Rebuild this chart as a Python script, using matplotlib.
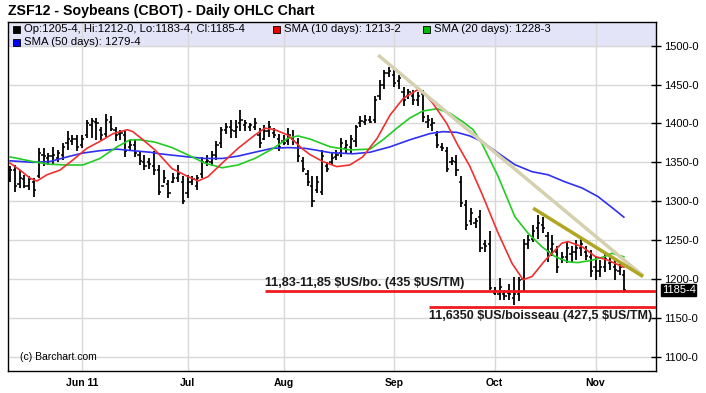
import numpy as np
import matplotlib
matplotlib.use("Agg")
import matplotlib.pyplot as plt
from matplotlib.patches import Rectangle

plt.rcParams['font.family'] = ['Liberation Sans', 'DejaVu Sans']

# daily OHLC bars, ZSF12
highs = [1345, 1347, 1340, 1334, 1332, 1330, 1368, 1368, 1362, 1370,
         1366, 1375, 1390, 1385, 1385, 1385, 1405, 1407, 1407, 1396,
         1412, 1409, 1396, 1392, 1390, 1379, 1379, 1364, 1360, 1355,
         1364, 1346, 1340, 1327, 1336, 1347, 1332, 1334, 1332, 1334,
         1357, 1360, 1364, 1377, 1396, 1400, 1405, 1405, 1417, 1405,
         1400, 1407, 1394, 1398, 1403, 1394, 1387, 1385, 1394, 1392,
         1381, 1357, 1340, 1332, 1332, 1366, 1351, 1362, 1366, 1381,
         1379, 1385, 1398, 1409, 1411, 1409, 1435, 1456, 1469, 1473,
         1469, 1462, 1447, 1445, 1443, 1441, 1443, 1411, 1407, 1390,
         1375, 1370, 1357, 1360, 1332, 1301, 1291, 1278, 1289, 1250,
         1262, 1190, 1201, 1186, 1194, 1203, 1203, 1252, 1257, 1269,
         1282, 1280, 1261, 1257, 1242, 1235, 1248, 1242, 1250, 1254,
         1242, 1237, 1229, 1224, 1233, 1229, 1224, 1220, 1212]
lows = [1325, 1312, 1317, 1317, 1314, 1306, 1330, 1345, 1347, 1347,
        1351, 1353, 1366, 1372, 1364, 1368, 1381, 1381, 1379, 1379,
        1383, 1390, 1377, 1379, 1357, 1366, 1357, 1347, 1340, 1342,
        1334, 1308, 1323, 1304, 1323, 1325, 1297, 1304, 1321, 1314,
        1330, 1345, 1345, 1353, 1368, 1387, 1381, 1381, 1390, 1390,
        1390, 1392, 1368, 1379, 1383, 1381, 1364, 1372, 1372, 1372,
        1351, 1338, 1319, 1293, 1310, 1308, 1338, 1347, 1353, 1357,
        1362, 1362, 1370, 1396, 1398, 1400, 1400, 1430, 1445, 1460,
        1447, 1445, 1422, 1432, 1424, 1422, 1402, 1394, 1390, 1368,
        1364, 1338, 1347, 1332, 1293, 1263, 1269, 1265, 1235, 1235,
        1186, 1179, 1173, 1173, 1173, 1166, 1171, 1184, 1239, 1248,
        1252, 1259, 1222, 1229, 1207, 1220, 1220, 1222, 1224, 1229,
        1224, 1203, 1199, 1203, 1209, 1212, 1199, 1205, 1183.5]
opens = [1330, 1340, 1322, 1328, 1320, 1325, 1332, 1360, 1355, 1358,
         1356, 1360, 1375, 1378, 1380, 1372, 1385, 1398, 1402, 1392,
         1386, 1402, 1392, 1386, 1385, 1370, 1372, 1360, 1350, 1350,
         1345, 1340, 1320, 1322, 1325, 1330, 1325, 1310, 1325, 1320,
         1335, 1350, 1350, 1360, 1375, 1392, 1395, 1390, 1400, 1398,
         1395, 1395, 1385, 1380, 1390, 1388, 1380, 1378, 1378, 1380,
         1375, 1352, 1335, 1320, 1315, 1312, 1345, 1350, 1357, 1362,
         1368, 1370, 1378, 1400, 1402, 1405, 1405, 1435, 1450, 1465,
         1462, 1455, 1440, 1435, 1435, 1430, 1438, 1402, 1398, 1385,
         1370, 1365, 1350, 1350, 1325, 1295, 1275, 1272, 1280, 1245,
         1245, 1182, 1180, 1180, 1182, 1175, 1180, 1200, 1245, 1252,
         1265, 1270, 1255, 1238, 1235, 1225, 1228, 1232, 1235, 1240,
         1235, 1228, 1215, 1210, 1215, 1220, 1215, 1210, 1205.5]
closes = [1340, 1320, 1330, 1320, 1328, 1315, 1362, 1358, 1358, 1360,
          1362, 1370, 1380, 1380, 1370, 1380, 1400, 1403, 1400, 1385,
          1405, 1393, 1385, 1388, 1365, 1372, 1362, 1352, 1345, 1348,
          1340, 1312, 1330, 1310, 1330, 1335, 1300, 1325, 1328, 1330,
          1350, 1352, 1360, 1372, 1392, 1395, 1392, 1395, 1405, 1400,
          1398, 1400, 1375, 1390, 1395, 1385, 1370, 1375, 1385, 1378,
          1358, 1342, 1325, 1300, 1325, 1358, 1342, 1355, 1360, 1375,
          1372, 1380, 1395, 1403, 1405, 1402, 1430, 1450, 1465, 1468,
          1452, 1458, 1430, 1440, 1430, 1435, 1408, 1405, 1400, 1372,
          1368, 1342, 1352, 1340, 1298, 1270, 1285, 1275, 1240, 1242,
          1188, 1185, 1190, 1178, 1180, 1180, 1198, 1245, 1250, 1262,
          1272, 1265, 1235, 1245, 1215, 1228, 1240, 1235, 1240, 1245,
          1230, 1210, 1210, 1215, 1225, 1222, 1212, 1215, 1185.5]

# moving averages (bar position, value)
sma10_x = [0, 2.1, 4.2, 5.6, 7.7, 10.4, 13.1, 16, 18.75, 21.5, 24.4, 25.6, 27.7,
           30.2, 33.75, 37.1, 39.2, 41.25, 44.2, 47.5, 51, 53.1, 55.2, 57.9,
           60.8, 62.5, 65.2, 68.1, 70.8, 73.5, 76.5, 79.2, 81.9, 84.8, 86,
           88.1, 91, 93.1, 95.8, 98.3, 101.7, 104.6, 106.9, 108.75, 111.5,
           115, 116.25, 119.2, 121.9, 124.6, 127.9]
sma10_y = [1349, 1340, 1329.5, 1326, 1334, 1340, 1353, 1368, 1377, 1387, 1392, 1389.5, 1379,
           1366, 1342, 1331.6, 1326, 1331.6, 1349, 1368, 1385, 1394, 1392, 1385,
           1368, 1360, 1351, 1344.5, 1346.6, 1357, 1381, 1411, 1432, 1443, 1441,
           1426, 1400, 1374.5, 1345, 1310, 1259, 1220, 1199, 1203, 1224,
           1246, 1248, 1241.5, 1229, 1224, 1215]
sma20_x = [0, 4.8, 8.3, 11.9, 15.2, 18.75, 22.3, 25, 27.1, 30.2, 33.75, 37.1,
           40.6, 44.2, 47.5, 51, 54.6, 57.9, 60, 62.5, 66.7, 70.8, 75, 77.7,
           80.6, 83.3, 86, 89, 91.7, 94.4, 96.5, 98.3, 101.7, 105.2, 107.9,
           110.8, 113.5, 116.25, 118.3, 121.25, 124, 125.4, 127.9]
sma20_y = [1357, 1351, 1347.5, 1346.6, 1346.6, 1355, 1370, 1379, 1379, 1376, 1369, 1359.5,
           1349, 1343, 1346.6, 1355, 1367, 1381, 1384, 1380, 1370, 1366, 1367, 1379,
           1394, 1407, 1416, 1419, 1413, 1402, 1392, 1374.5, 1332, 1280, 1259,
           1241.5, 1229, 1222, 1221, 1224, 1229, 1233, 1228.5]
sma50_x = [0, 4.8, 8.3, 11.9, 15.2, 18.75, 22.3, 25.6, 29.2, 31.25, 37.1, 40.6,
           44.2, 47.5, 51, 54.6, 57.9, 61.5, 63.5, 66.7, 71.5, 75, 79.2, 83.3,
           87.5, 90.2, 93.1, 95.8, 98.3, 101.7, 105.2, 108.75, 112.1, 115.6,
           119.2, 122.5, 126, 127.9]
sma50_y = [1352, 1350, 1351, 1357, 1362, 1365, 1367, 1365, 1363, 1361, 1357, 1355,
           1355, 1358, 1363, 1368, 1369, 1368, 1366, 1362.5, 1361, 1363, 1370, 1379,
           1387, 1389.5, 1388.6, 1384, 1377, 1362, 1347, 1338, 1334, 1325,
           1317, 1306, 1289, 1279.5]

# drawn trendlines and support levels
trend1_x, trend1_y = [76.7, 131.9], [1488, 1204]
trend2_x, trend2_y = [109, 131.9], [1291, 1203]
support1, support1_start = 1184.4, 53.1
support2, support2_start = 1164.0, 87.3

month_pos = [15, 37, 57, 80, 101, 122]
month_labels = ['Jun 11', 'Jul', 'Aug', 'Sep', 'Oct', 'Nov']
y_ticks = [1100, 1150, 1200, 1250, 1300, 1350, 1400, 1450, 1500]

W, H = 706, 393
fig = plt.figure(figsize=(W / 100, H / 100), dpi=100)
ax = fig.add_axes([8 / W, 1 - 371 / H, 648 / W, 349 / H])
xmin, xmax = -0.42, 134.6
ymin, ymax = 1081.5, 1530.6
ax.set_xlim(xmin, xmax)
ax.set_ylim(ymin, ymax)

# legend band
ax.axhspan(1500, ymax, color='#e4e4f8', zorder=0)
for p in month_pos:
    ax.axvline(p, color='#d8d8d8', lw=1, zorder=1)
for t in y_ticks:
    ax.axhline(t, color='#d8d8d8', lw=1, zorder=1)

# OHLC bars
x = np.arange(len(highs))
ax.vlines(x, lows, highs, color='black', lw=1.3, zorder=3)
ax.hlines(opens, x - 0.45, x, color='black', lw=1.1, zorder=3)
ax.hlines(closes, x, x + 0.45, color='black', lw=1.1, zorder=3)

ax.plot(sma50_x, sma50_y, color='#3030f0', lw=1.2, zorder=4)
ax.plot(sma20_x, sma20_y, color='#22cc22', lw=1.2, zorder=4)
ax.plot(sma10_x, sma10_y, color='#f03030', lw=1.2, zorder=4)

ax.plot(trend1_x, trend1_y, color='#d4d0b0', lw=2.5, zorder=5, solid_capstyle='butt')
ax.plot(trend2_x, trend2_y, color='#b0a622', lw=2.5, zorder=5, solid_capstyle='butt')

ax.hlines(support1, support1_start, xmax, color='#ee1c1c', lw=2, zorder=5)
ax.hlines(support2, support2_start, xmax, color='#ee1c1c', lw=2, zorder=5)
ax.text(support1_start, 1194.3, '11,83-11,85 $US/bo. (435 $US/TM)', fontsize=9.1,
        fontweight='bold', color='#1a1a1a', va='center', ha='left', zorder=6,
        parse_math=False)
ax.text(support2_start, 1152.6, '11,6350 $US/boisseau (427,5 $US/TM)', fontsize=9,
        fontweight='bold', color='#1a1a1a', va='center', ha='left', zorder=6,
        parse_math=False)

# axes styling
for s in ax.spines.values():
    s.set_color('black')
    s.set_linewidth(1)
ax.yaxis.tick_right()
ax.set_yticks(y_ticks)
ax.set_yticklabels(['%d-0' % t for t in y_ticks])
ax.tick_params(axis='y', direction='inout', length=7, width=1, labelsize=8, pad=2)
ax.set_xticks(month_pos)
ax.set_xticklabels(month_labels, fontweight='bold')
ax.tick_params(axis='x', length=0, labelsize=7.5, pad=5)

ax.text(xmax + 1.2, closes[-1], '1185-4', fontsize=8, color='white', va='center',
        ha='left', zorder=7, clip_on=False,
        bbox=dict(facecolor='black', edgecolor='black', pad=0.6))

# title and legend
fig.text(8 / W, 1 - 11 / H, 'ZSF12 - Soybeans (CBOT) - Daily OHLC Chart', fontsize=10.2,
         fontweight='bold', va='center', ha='left')
legend = [(13, 29, 'black', 'Op:1205-4, Hi:1212-0, Lo:1183-4, Cl:1185-4'),
          (273, 29, '#ee0000', 'SMA (10 days): 1213-2'),
          (423, 29, '#00bb00', 'SMA (20 days): 1228-3'),
          (13, 42, '#0000ee', 'SMA (50 days): 1279-4')]
for lx, ly, c, label in legend:
    fig.patches.append(Rectangle((lx / W, 1 - (ly + 3.5) / H), 7 / W, 7 / H,
                                 facecolor=c, edgecolor='black', lw=0.6,
                                 transform=fig.transFigure, figure=fig))
    fig.text((lx + 11) / W, 1 - ly / H, label, fontsize=8.2, va='center', ha='left')

fig.text(20 / W, 1 - 357 / H, '(c) Barchart.com', fontsize=7.5, va='center', ha='left')

fig.savefig('out.png', dpi=100)
